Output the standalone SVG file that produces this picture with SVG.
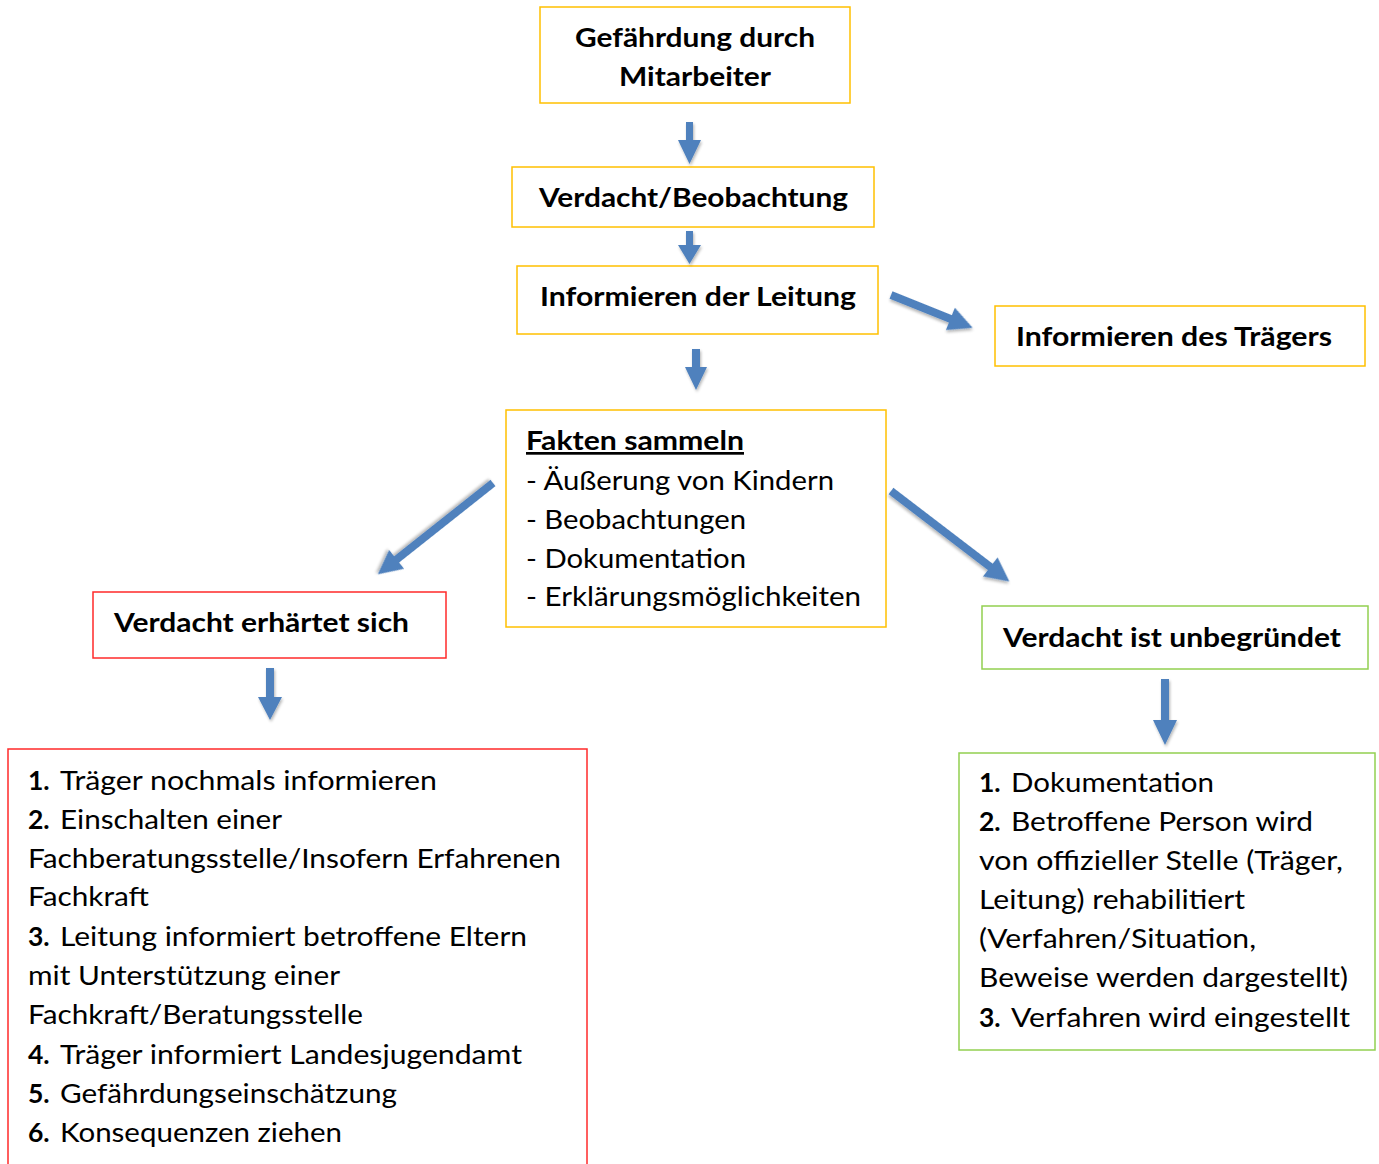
<svg xmlns="http://www.w3.org/2000/svg" width="1379" height="1164" viewBox="0 0 1379 1164">
<style>
text{font-family:Lato,"Open Sans","Liberation Sans",sans-serif;fill:#000}
.h{font-weight:700;font-size:27px}
.t{font-size:26.5px}
.b{font-weight:700;font-size:26.5px}
.y{fill:#fff;stroke:#FFC000;stroke-width:1.5}
.r{fill:#fff;stroke:#FF2A2A;stroke-width:1.5}
.g{fill:#fff;stroke:#92D050;stroke-width:1.5}
.arr{fill:#4F81BD;filter:url(#sh)}
</style>
<defs>
<filter id="sh" x="-50%" y="-50%" width="200%" height="200%">
<feGaussianBlur in="SourceAlpha" stdDeviation="1.5"/>
<feOffset dx="1" dy="2" result="o"/>
<feComponentTransfer><feFuncA type="linear" slope="0.3"/></feComponentTransfer>
<feMerge><feMergeNode/><feMergeNode in="SourceGraphic"/></feMerge>
</filter>
</defs>
<rect width="1379" height="1164" fill="#fff"/>

<g id="n1"><rect class="y" x="540" y="7" width="310" height="96"/>
<text class="h" x="575" y="47" textLength="240" lengthAdjust="spacingAndGlyphs">Gefährdung durch</text>
<text class="h" x="619" y="86" textLength="152" lengthAdjust="spacingAndGlyphs">Mitarbeiter</text></g>

<g id="n2"><rect class="y" x="512" y="167" width="362" height="60"/>
<text class="h" x="539" y="207" textLength="309" lengthAdjust="spacingAndGlyphs">Verdacht/Beobachtung</text></g>

<g id="n3"><rect class="y" x="517" y="266" width="361" height="68"/>
<text class="h" x="540" y="306" textLength="316" lengthAdjust="spacingAndGlyphs">Informieren der Leitung</text></g>

<g id="n4"><rect class="y" x="995" y="306" width="370" height="60"/>
<text class="h" x="1016" y="346" textLength="316" lengthAdjust="spacingAndGlyphs">Informieren des Trägers</text></g>

<g id="n5"><rect class="y" x="506" y="410" width="380" height="217"/>
<text class="h" x="526" y="450" textLength="218" lengthAdjust="spacingAndGlyphs" text-decoration="underline">Fakten sammeln</text>
<text class="t" x="526" y="490" textLength="308" lengthAdjust="spacingAndGlyphs">- Äußerung von Kindern</text>
<text class="t" x="526" y="529" textLength="220" lengthAdjust="spacingAndGlyphs">- Beobachtungen</text>
<text class="t" x="526" y="568" textLength="220" lengthAdjust="spacingAndGlyphs">- Dokumentation</text>
<text class="t" x="526" y="606" textLength="335" lengthAdjust="spacingAndGlyphs">- Erklärungsmöglichkeiten</text></g>

<g id="n6"><rect class="r" x="93" y="592" width="353" height="66"/>
<text class="h" x="114" y="632" textLength="295" lengthAdjust="spacingAndGlyphs">Verdacht erhärtet sich</text></g>

<g id="n7"><rect class="g" x="982" y="606" width="386" height="63"/>
<text class="h" x="1003" y="647" textLength="338" lengthAdjust="spacingAndGlyphs">Verdacht ist unbegründet</text></g>

<g id="n8"><rect class="r" x="8" y="749" width="579" height="440"/>
<text class="b" x="28" y="790">1.</text><text class="t" x="60" y="790" textLength="377" lengthAdjust="spacingAndGlyphs">Träger nochmals informieren</text>
<text class="b" x="28" y="829">2.</text><text class="t" x="60" y="829" textLength="222" lengthAdjust="spacingAndGlyphs">Einschalten einer</text>
<text class="t" x="28" y="868" textLength="533" lengthAdjust="spacingAndGlyphs">Fachberatungsstelle/Insofern Erfahrenen</text>
<text class="t" x="28" y="906" textLength="121" lengthAdjust="spacingAndGlyphs">Fachkraft</text>
<text class="b" x="28" y="946">3.</text><text class="t" x="60" y="946" textLength="467" lengthAdjust="spacingAndGlyphs">Leitung informiert betroffene Eltern</text>
<text class="t" x="28" y="985" textLength="312" lengthAdjust="spacingAndGlyphs">mit Unterstützung einer</text>
<text class="t" x="28" y="1024" textLength="335" lengthAdjust="spacingAndGlyphs">Fachkraft/Beratungsstelle</text>
<text class="b" x="28" y="1064">4.</text><text class="t" x="60" y="1064" textLength="462" lengthAdjust="spacingAndGlyphs">Träger informiert Landesjugendamt</text>
<text class="b" x="28" y="1103">5.</text><text class="t" x="60" y="1103" textLength="337" lengthAdjust="spacingAndGlyphs">Gefährdungseinschätzung</text>
<text class="b" x="28" y="1142">6.</text><text class="t" x="60" y="1142" textLength="282" lengthAdjust="spacingAndGlyphs">Konsequenzen ziehen</text></g>

<g id="n9"><rect class="g" x="959" y="753" width="416" height="297"/>
<text class="b" x="979" y="792">1.</text><text class="t" x="1011" y="792" textLength="203" lengthAdjust="spacingAndGlyphs">Dokumentation</text>
<text class="b" x="979" y="831">2.</text><text class="t" x="1011" y="831" textLength="302" lengthAdjust="spacingAndGlyphs">Betroffene Person wird</text>
<text class="t" x="979" y="870" textLength="364" lengthAdjust="spacingAndGlyphs">von offizieller Stelle (Träger,</text>
<text class="t" x="979" y="909" textLength="266" lengthAdjust="spacingAndGlyphs">Leitung) rehabilitiert</text>
<text class="t" x="979" y="948" textLength="277" lengthAdjust="spacingAndGlyphs">(Verfahren/Situation,</text>
<text class="t" x="979" y="987" textLength="369" lengthAdjust="spacingAndGlyphs">Beweise werden dargestellt)</text>
<text class="b" x="979" y="1027">3.</text><text class="t" x="1011" y="1027" textLength="339" lengthAdjust="spacingAndGlyphs">Verfahren wird eingestellt</text></g>

<g id="connectors">
<polygon class="arr" points="686,122 693,122 693,140 701,140 689.5,164 678,140 686,140"/>
<polygon class="arr" points="686,231 693,231 693,245 701,245 689.5,264 678,245 686,245"/>
<polygon class="arr" points="692,349 700,349 700,367 707,367 696,390 685,367 692,367"/>
<polygon class="arr" points="266,668 274,668 274,697 282,697 270,720 258,697 266,697"/>
<polygon class="arr" points="1161,679 1169,679 1169,720 1177,720 1165,745 1153,720 1161,720"/>
<g transform="translate(891,295) rotate(21.9)"><polygon class="arr" points="0,-4 64,-4 64,-12 88,0 64,12 64,4 0,4"/></g>
<g transform="translate(493,483) rotate(141.6)"><polygon class="arr" points="0,-4 123,-4 123,-12 147,0 123,12 123,4 0,4"/></g>
<g transform="translate(891,491) rotate(37.4)"><polygon class="arr" points="0,-4 125,-4 125,-12 149,0 125,12 125,4 0,4"/></g>
</g>
</svg>
